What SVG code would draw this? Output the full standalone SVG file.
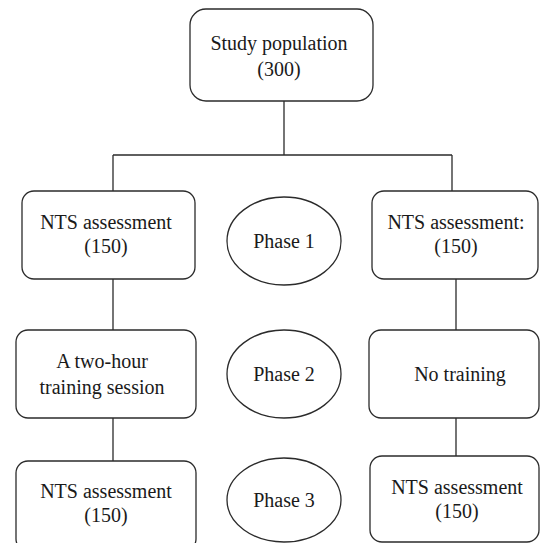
<svg xmlns="http://www.w3.org/2000/svg" width="540" height="543" viewBox="0 0 540 543">
<style>
.box{fill:#fff;stroke:#2b2b2b;stroke-width:1.3}
.ell{fill:#fff;stroke:#2b2b2b;stroke-width:1.3}
.ln{fill:none;stroke:#2b2b2b;stroke-width:1.3}
.t{font-family:'Liberation Serif','Times New Roman',serif;font-size:20px;fill:#1a1a1a;text-anchor:middle}
</style>
<rect width="540" height="543" fill="#fff"/>
<g id="connectors">
<path class="ln" d="M284,101 V155 M113,155 H452 M113,155 V191 M452,155 V191"/>
<path class="ln" d="M113,279 V330 M113,418 V461"/>
<path class="ln" d="M456,279 V330 M456,418 V456"/>
</g>
<g id="study">
<rect class="box" x="190" y="9" width="183" height="92" rx="16"/>
<text class="t" x="279" y="50">Study population</text>
<text class="t" x="279" y="76">(300)</text>
</g>
<g id="left1">
<rect class="box" x="22" y="191" width="173" height="88" rx="12"/>
<text class="t" x="106" y="229">NTS assessment</text>
<text class="t" x="106" y="253">(150)</text>
</g>
<g id="phase1">
<ellipse class="ell" cx="284" cy="241" rx="57" ry="44"/>
<text class="t" x="284" y="248">Phase 1</text>
</g>
<g id="right1">
<rect class="box" x="372" y="191" width="166" height="88" rx="12"/>
<text class="t" x="456" y="229">NTS assessment:</text>
<text class="t" x="456" y="253">(150)</text>
</g>
<g id="left2">
<rect class="box" x="16" y="330" width="180" height="88" rx="12"/>
<text class="t" x="102" y="368">A two-hour</text>
<text class="t" x="102" y="394">training session</text>
</g>
<g id="phase2">
<ellipse class="ell" cx="284" cy="374" rx="57" ry="44"/>
<text class="t" x="284" y="381">Phase 2</text>
</g>
<g id="right2">
<rect class="box" x="369" y="330" width="170" height="88" rx="12"/>
<text class="t" x="460" y="381">No training</text>
</g>
<g id="left3">
<rect class="box" x="16" y="461" width="180" height="90" rx="12"/>
<text class="t" x="106" y="498">NTS assessment</text>
<text class="t" x="106" y="522">(150)</text>
</g>
<g id="phase3">
<ellipse class="ell" cx="284" cy="500" rx="57" ry="42"/>
<text class="t" x="284" y="507">Phase 3</text>
</g>
<g id="right3">
<rect class="box" x="370" y="456" width="169" height="86" rx="12"/>
<text class="t" x="457" y="494">NTS assessment</text>
<text class="t" x="457" y="518">(150)</text>
</g>
</svg>
